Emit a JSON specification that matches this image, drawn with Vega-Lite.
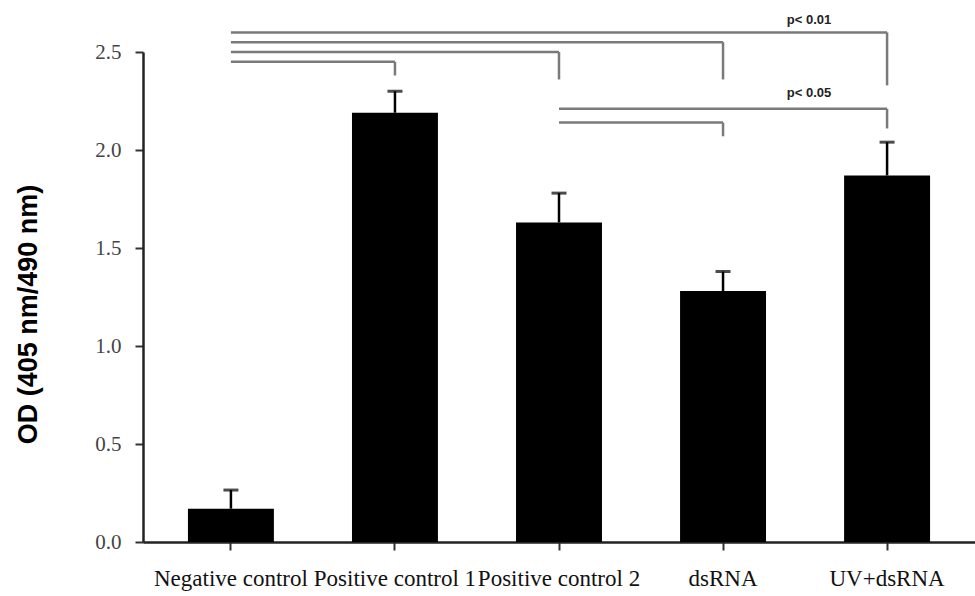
{
  "$schema": "https://vega.github.io/schema/vega-lite/v6.json",
  "autosize": {"type": "none"},
  "padding": {"left": 143, "top": 52, "right": 0, "bottom": 54},
  "width": 832,
  "height": 490,
  "background": "white",
  "config": {"view": {"stroke": null}},
  "datasets": {
    "bars": [
      {"group": "Negative control", "od": 0.17, "hi": 0.265},
      {"group": "Positive control 1", "od": 2.19, "hi": 2.30},
      {"group": "Positive control 2", "od": 1.63, "hi": 1.78},
      {"group": "dsRNA", "od": 1.28, "hi": 1.38},
      {"group": "UV+dsRNA", "od": 1.87, "hi": 2.04}
    ],
    "hlines": [
      {"group": "Negative control", "to": "UV+dsRNA", "y": 2.60},
      {"group": "Negative control", "to": "dsRNA", "y": 2.55},
      {"group": "Negative control", "to": "Positive control 2", "y": 2.50},
      {"group": "Negative control", "to": "Positive control 1", "y": 2.45},
      {"group": "Positive control 2", "to": "UV+dsRNA", "y": 2.21},
      {"group": "Positive control 2", "to": "dsRNA", "y": 2.14}
    ],
    "vlines": [
      {"group": "Positive control 1", "y": 2.45, "y2": 2.38},
      {"group": "Positive control 2", "y": 2.50, "y2": 2.36},
      {"group": "dsRNA", "y": 2.55, "y2": 2.36},
      {"group": "UV+dsRNA", "y": 2.60, "y2": 2.33},
      {"group": "UV+dsRNA", "y": 2.21, "y2": 2.11},
      {"group": "dsRNA", "y": 2.14, "y2": 2.07}
    ],
    "labels": [
      {"group": "UV+dsRNA", "y": 2.665, "label": "p< 0.01"},
      {"group": "UV+dsRNA", "y": 2.29, "label": "p< 0.05"}
    ]
  },
  "layer": [
    {
      "data": {"name": "bars"},
      "mark": {"type": "bar", "color": "#000000"},
      "encoding": {
        "x": {
          "field": "group", "type": "nominal", "sort": null,
          "scale": {"domain": ["Negative control", "Positive control 1", "Positive control 2", "dsRNA", "UV+dsRNA"], "paddingInner": 0.476, "paddingOuter": 0.274},
          "axis": {
            "title": null, "labelAngle": 0, "labelOverlap": false, "labelBound": false,
            "labelFont": "Liberation Serif", "labelFontSize": 23, "labelColor": "#111111",
            "labelPadding": 17, "tickSize": 8, "tickWidth": 2, "tickColor": "#333333",
            "domainColor": "#222222", "domainWidth": 2.5, "grid": false
          }
        },
        "y": {
          "field": "od", "type": "quantitative",
          "scale": {"domain": [0, 2.5], "nice": false},
          "axis": {
            "title": "OD (405 nm/490 nm)", "titleFont": "Liberation Sans", "titleFontSize": 27,
            "titleFontWeight": "bold", "titleColor": "#000000", "titleX": -115, "titleY": 262,
            "titleBaseline": "middle", "titleAngle": -90,
            "values": [0, 0.5, 1, 1.5, 2, 2.5], "format": ".1f",
            "labelFont": "Liberation Serif", "labelFontSize": 21, "labelColor": "#444444",
            "labelPadding": 14, "tickSize": 8, "tickWidth": 2, "tickColor": "#333333",
            "domainColor": "#222222", "domainWidth": 2.5, "grid": false
          }
        }
      }
    },
    {
      "data": {"name": "bars"},
      "mark": {"type": "rule", "color": "#000000", "strokeWidth": 2.5},
      "encoding": {
        "x": {"field": "group", "type": "nominal", "sort": null},
        "y": {"field": "od", "type": "quantitative"},
        "y2": {"field": "hi"}
      }
    },
    {
      "data": {"name": "bars"},
      "mark": {"type": "tick", "color": "#000000", "size": 15, "thickness": 3, "orient": "horizontal"},
      "encoding": {
        "x": {"field": "group", "type": "nominal", "sort": null},
        "y": {"field": "hi", "type": "quantitative"}
      }
    },
    {
      "data": {"name": "hlines"},
      "mark": {"type": "rule", "color": "#7a7a7a", "strokeWidth": 2.5},
      "encoding": {
        "x": {"field": "group", "type": "nominal", "sort": null},
        "x2": {"field": "to"},
        "y": {"field": "y", "type": "quantitative"}
      }
    },
    {
      "data": {"name": "vlines"},
      "mark": {"type": "rule", "color": "#7a7a7a", "strokeWidth": 2.5},
      "encoding": {
        "x": {"field": "group", "type": "nominal", "sort": null},
        "y": {"field": "y", "type": "quantitative"},
        "y2": {"field": "y2"}
      }
    },
    {
      "data": {"name": "labels"},
      "mark": {"type": "text", "font": "Liberation Sans", "fontWeight": "bold", "fontSize": 13, "color": "#222222", "dx": -78, "align": "center", "baseline": "middle"},
      "encoding": {
        "x": {"field": "group", "type": "nominal", "sort": null},
        "y": {"field": "y", "type": "quantitative"},
        "text": {"field": "label"}
      }
    }
  ]
}
